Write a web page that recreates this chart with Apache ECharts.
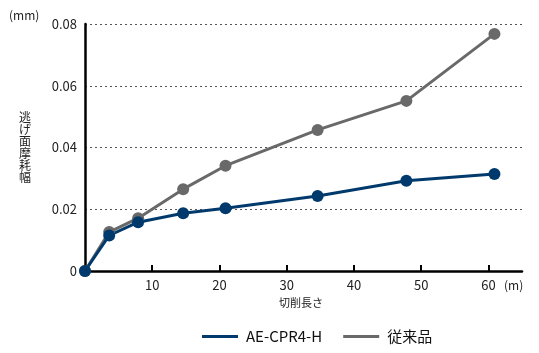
<!DOCTYPE html>
<html>
<head>
<meta charset="utf-8">
<script src="https://cdn.jsdelivr.net/npm/echarts@6/dist/echarts.min.js"></script>
<style>
  html, body { margin: 0; padding: 0; background: #fff; }
  #chart { width: 539px; height: 353px; }
</style>
</head>
<body>
<div id="chart"></div>
<script>
// cutting length (m) and flank wear width (mm)
const lengthAE = [0, 3.6, 7.9, 14.6, 20.9, 34.6, 47.8, 60.9];
const wearAE = [0, 0.0115, 0.0158, 0.0187, 0.0203, 0.0243, 0.0292, 0.0314];
const lengthConv = [0, 3.6, 7.9, 14.6, 20.9, 34.6, 47.8, 60.9];
const wearConv = [0, 0.0126, 0.0171, 0.0265, 0.0341, 0.0457, 0.0551, 0.0768];
const seriesNames = ['AE-CPR4-H', '従来品'];
const xTicks = [10, 20, 30, 40, 50, 60];

const font = "'Noto Sans CJK JP', 'Noto Sans', sans-serif";
const blue = '#003a6c';
const gray = '#696969';

const chart = echarts.init(document.getElementById('chart'));

function pairs(xs, ys) {
    return xs.map((x, i) => [x, ys[i]]);
}

chart.setOption({
    animation: false,
    textStyle: { fontFamily: font },
    grid: { left: 85, top: 24, right: 17, bottom: 82 },
    legend: {
        top: 324,
        left: 197,
        itemWidth: 36,
        itemHeight: 3,
        itemGap: 21,
        icon: 'rect',
        textStyle: { fontSize: 15, color: '#111', fontFamily: font, padding: [0, 0, 0, 3] },
        data: seriesNames
    },
    xAxis: {
        type: 'value',
        min: 0,
        max: 65,
        interval: 10,
        axisLine: { lineStyle: { color: '#000', width: 2.5 } },
        axisTick: { inside: true, length: 6, customValues: xTicks, lineStyle: { color: '#000', width: 2 } },
        axisLabel: { customValues: xTicks, color: '#222', fontSize: 13, margin: 8 },
        splitLine: { show: false }
    },
    yAxis: {
        type: 'value',
        min: 0,
        max: 0.08,
        interval: 0.02,
        axisLine: { show: true, lineStyle: { color: '#000', width: 2.5 } },
        axisTick: { show: false },
        axisLabel: {
            color: '#222',
            fontSize: 13,
            margin: 8,
            formatter: v => v === 0 ? '0' : v.toFixed(2)
        },
        splitLine: { lineStyle: { color: '#555', type: [2, 3], width: 1 } }
    },
    graphic: [
        { type: 'text', left: 9, top: 9, style: { text: '(mm)', fontSize: 12, fill: '#222', fontFamily: font } },
        { type: 'text', left: 504, top: 279, style: { text: '(m)', fontSize: 12, fill: '#222', fontFamily: font } },
        { type: 'text', left: 279, top: 297, style: { text: '切削長さ', fontSize: 11, fill: '#222', fontFamily: font } },
        { type: 'text', left: 19, top: 111, style: { text: '逃\nげ\n面\n摩\n耗\n幅', fontSize: 12, lineHeight: 12, fill: '#222', fontFamily: font } }
    ],
    series: [
        {
            name: seriesNames[1],
            type: 'line',
            data: pairs(lengthConv, wearConv),
            color: gray,
            symbol: 'circle',
            symbolSize: 12,
            lineStyle: { width: 3, color: gray },
            itemStyle: { color: gray }
        },
        {
            name: seriesNames[0],
            type: 'line',
            data: pairs(lengthAE, wearAE),
            color: blue,
            symbol: 'circle',
            symbolSize: 12,
            lineStyle: { width: 3, color: blue },
            itemStyle: { color: blue }
        }
    ]
});
</script>
</body>
</html>
